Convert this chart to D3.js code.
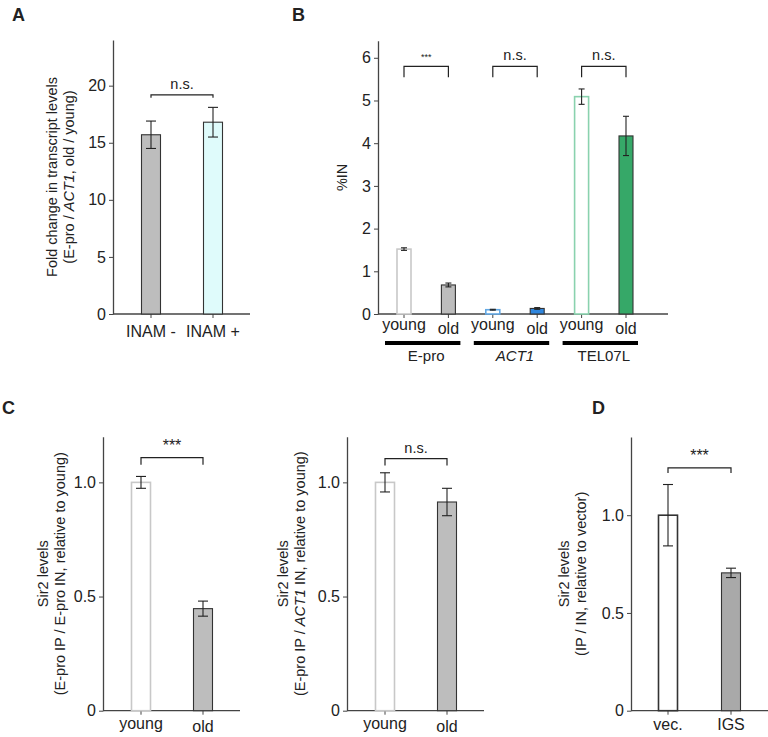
<!DOCTYPE html>
<html>
<head>
<meta charset="utf-8">
<script src="https://cdn.jsdelivr.net/npm/d3@7"></script>
<style>
  body { margin: 0; background: #fff; }
  svg text { font-family: "Liberation Sans", Arial, sans-serif; fill: #222; }
</style>
</head>
<body>
<svg id="fig" width="768" height="737"></svg>
<script>
// ---- data ----
// panel A
var a_cats = ["INAM -", "INAM +"];
var a_vals = [15.7, 16.8];
var a_errs = [1.2, 1.3];
var a_fill = ["#bdbdbd", "#dffbfb"];
var a_line = ["#333", "#333"];
var a_ticks = [0, 5, 10, 15, 20];
// panel B
var b_cats = ["young", "old", "young", "old", "young", "old"];
var b_vals = [1.52, 0.68, 0.10, 0.13, 5.09, 4.17];
var b_errs = [0.03, 0.045, 0.01, 0.02, 0.18, 0.46];
var b_fill = ["#fff", "#bdbdbd", "#fff", "#2f86de", "#fff", "#36a868"];
var b_line = ["#c8c8c8", "#333", "#62a8e4", "#333", "#8ad2ae", "#333"];
var b_groups = ["E-pro", "ACT1", "TEL07L"];
var b_ticks = [0, 1, 2, 3, 4, 5, 6];
// panel C (left / right)
var c_cats = ["young", "old"];
var c1_vals = [1.0, 0.447];
var c1_errs = [0.026, 0.033];
var c2_vals = [1.0, 0.914];
var c2_errs = [0.042, 0.06];
var c_fill = ["#fff", "#bdbdbd"];
var c_line = ["#c8c8c8", "#333"];
// panel D
var d_cats = ["vec.", "IGS"];
var d_vals = [1.0, 0.705];
var d_errs = [0.157, 0.024];
var d_fill = ["#fff", "#a9a9a9"];
var d_line = ["#333", "#333"];
var sir_ticks = [0, 0.5, 1.0];

var svg = d3.select("#fig");
var fs_tick = 16, fs_lab = 14.5;

function drawPanel(cfg) {
    var g = svg.append("g");
    var y = d3.scaleLinear().domain(cfg.domain).range([cfg.bottom, cfg.top]);
    var x = d3.scalePoint().domain(d3.range(cfg.cats.length)).range(cfg.centers);

    // y axis
    var yAxis = d3.axisLeft(y).tickValues(cfg.ticks).tickSize(4).tickSizeOuter(0)
        .tickFormat(cfg.fmt || d3.format("d"));
    var ya = g.append("g").attr("transform", "translate(" + cfg.x0 + ",0)").call(yAxis)
        .attr("font-size", fs_tick).attr("font-family", "Liberation Sans, Arial, sans-serif");
    ya.select(".domain").attr("stroke", "#444").attr("stroke-width", 1.3);
    ya.selectAll(".tick line").attr("stroke", "#444");
    ya.selectAll(".tick text").attr("fill", "#222").attr("x", -7);

    // x axis line
    g.append("line")
        .attr("x1", cfg.x0).attr("x2", cfg.x1)
        .attr("y1", cfg.bottom).attr("y2", cfg.bottom)
        .attr("stroke", "#444").attr("stroke-width", 1.3);
    g.selectAll(".xtick").data(cfg.cats).enter().append("line")
        .attr("x1", function (d, i) { return x(i); })
        .attr("x2", function (d, i) { return x(i); })
        .attr("y1", cfg.bottom).attr("y2", cfg.bottom + 4)
        .attr("stroke", "#444");
    g.selectAll(".xlab").data(cfg.cats).enter().append("text")
        .attr("x", function (d, i) { return x(i); })
        .attr("y", function (d) { return cfg.bottom + (d == "old" ? cfg.labOld : cfg.labY); })
        .attr("text-anchor", "middle").attr("font-size", fs_tick)
        .text(function (d) { return d; });

    // bars
    g.selectAll(".bar").data(cfg.vals).enter().append("rect")
        .attr("x", function (d, i) { return x(i) - cfg.bw / 2; })
        .attr("width", cfg.bw)
        .attr("y", function (d) { return y(d); })
        .attr("height", function (d) { return cfg.bottom - y(d); })
        .attr("fill", function (d, i) { return cfg.fill[i]; })
        .attr("stroke", function (d, i) { return cfg.line[i]; })
        .attr("stroke-width", function (d, i) { return cfg.fill[i] == "#fff" ? 1.6 : 1.1; });

    // error bars
    cfg.vals.forEach(function (v, i) {
        var e = cfg.errs[i], cx = x(i), cw = cfg.cap;
        g.append("line").attr("x1", cx).attr("x2", cx)
            .attr("y1", y(v + e)).attr("y2", y(v - e))
            .attr("stroke", "#222").attr("stroke-width", 1.1);
        [v + e, v - e].forEach(function (yy) {
            g.append("line").attr("x1", cx - cw).attr("x2", cx + cw)
                .attr("y1", y(yy)).attr("y2", y(yy))
                .attr("stroke", "#222").attr("stroke-width", 1.1);
        });
    });

    // significance brackets
    cfg.sig.forEach(function (s) {
        var xa = x(s.a), xb = x(s.b), yt = y(s.y), yd = y(s.y) + s.drop;
        g.append("path")
            .attr("d", "M" + xa + "," + yd + "V" + yt + "H" + xb + "V" + yd)
            .attr("fill", "none").attr("stroke", "#222").attr("stroke-width", 1.2);
        g.append("text").attr("x", (xa + xb) / 2).attr("y", yt - s.gap)
            .attr("text-anchor", "middle").attr("font-size", s.size)
            .text(s.text);
    });

    // y label
    var yl = g.append("text")
        .attr("transform", "translate(" + cfg.lx + "," + (cfg.top + cfg.bottom) / 2 + ") rotate(-90)")
        .attr("text-anchor", "middle").attr("font-size", fs_lab);
    cfg.ylabel.forEach(function (line, li) {
        var t = yl.append("tspan").attr("x", 0).attr("dy", li == 0 ? "0.35em" : "1.18em");
        line.forEach(function (part) {
            var s = t.append("tspan").text(part[0]);
            if (part[1]) s.attr("font-style", "italic");
        });
    });
    return { x: x, y: y };
}

// panel letters
[["A", 12, 21], ["B", 292, 21], ["C", 2, 414], ["D", 592, 414]].forEach(function (p) {
    svg.append("text").attr("x", p[1]).attr("y", p[2])
        .attr("font-size", 18).attr("font-weight", "bold").attr("fill", "#111").text(p[0]);
});

// A
drawPanel({
    cats: a_cats, vals: a_vals, errs: a_errs, fill: a_fill, line: a_line,
    domain: [0, 24], top: 40, bottom: 314, x0: 113, x1: 250, centers: [151, 213],
    bw: 19, cap: 5, ticks: a_ticks, labY: 23, labOld: 23, lx: 52,
    sig: [{ a: 0, b: 1, y: 19.2, drop: 3, gap: 6, size: 14.5, text: "n.s." }],
    ylabel: [[["Fold change in transcript levels"]],
             [["(E-pro / "], ["ACT1", true], [", old / young)"]]]
});

// B
var pb = drawPanel({
    cats: b_cats, vals: b_vals, errs: b_errs, fill: b_fill, line: b_line,
    domain: [0, 6.4], top: 40.7, bottom: 314, x0: 378, x1: 668, centers: [404, 626],
    bw: 14, cap: 3, ticks: b_ticks, labY: 16, labOld: 20, lx: 342,
    sig: [{ a: 0, b: 1, y: 5.8, drop: 11, gap: 6, size: 9, text: "***" },
          { a: 2, b: 3, y: 5.8, drop: 11, gap: 6, size: 14.5, text: "n.s." },
          { a: 4, b: 5, y: 5.8, drop: 11, gap: 6, size: 14.5, text: "n.s." }],
    ylabel: [[["%IN"]]]
});
b_groups.forEach(function (name, k) {
    var xa = pb.x(2 * k), xb = pb.x(2 * k + 1);
    svg.append("line").attr("x1", xa - 19).attr("x2", xb + 12)
        .attr("y1", 343).attr("y2", 343).attr("stroke", "#000").attr("stroke-width", 4);
    svg.append("text").attr("x", (xa + xb) / 2).attr("y", 361)
        .attr("text-anchor", "middle").attr("font-size", 15)
        .attr("font-style", name == "ACT1" ? "italic" : null).text(name);
});

var sirFmt = function (d) { return d == 0 ? "0" : d.toFixed(1); };

// C left
drawPanel({
    cats: c_cats, vals: c1_vals, errs: c1_errs, fill: c_fill, line: c_line,
    domain: [0, 1.2], top: 436.7, bottom: 710.7, x0: 103, x1: 240, centers: [141, 203],
    bw: 19, cap: 5, ticks: sir_ticks, fmt: sirFmt, labY: 18, labOld: 21, lx: 43,
    sig: [{ a: 0, b: 1, y: 1.108, drop: 7, gap: 7, size: 16, text: "***" }],
    ylabel: [[["Sir2 levels"]],
             [["(E-pro IP / E-pro IN, relative to young)"]]]
});

// C right
drawPanel({
    cats: c_cats, vals: c2_vals, errs: c2_errs, fill: c_fill, line: c_line,
    domain: [0, 1.2], top: 436.7, bottom: 710.7, x0: 347, x1: 484, centers: [385, 447],
    bw: 19, cap: 5, ticks: sir_ticks, fmt: sirFmt, labY: 18, labOld: 21, lx: 283,
    sig: [{ a: 0, b: 1, y: 1.104, drop: 7, gap: 6, size: 14.5, text: "n.s." }],
    ylabel: [[["Sir2 levels"]],
             [["(E-pro IP / "], ["ACT1", true], [" IN, relative to young)"]]]
});

// D
drawPanel({
    cats: d_cats, vals: d_vals, errs: d_errs, fill: d_fill, line: d_line,
    domain: [0, 1.4], top: 437, bottom: 710.7, x0: 631, x1: 768, centers: [668, 731],
    bw: 19, cap: 5, ticks: sir_ticks, fmt: sirFmt, labY: 19, labOld: 19, lx: 564,
    sig: [{ a: 0, b: 1, y: 1.242, drop: 5, gap: 7, size: 16, text: "***" }],
    ylabel: [[["Sir2 levels"]],
             [["(IP / IN, relative to vector)"]]]
});
</script>
</body>
</html>
